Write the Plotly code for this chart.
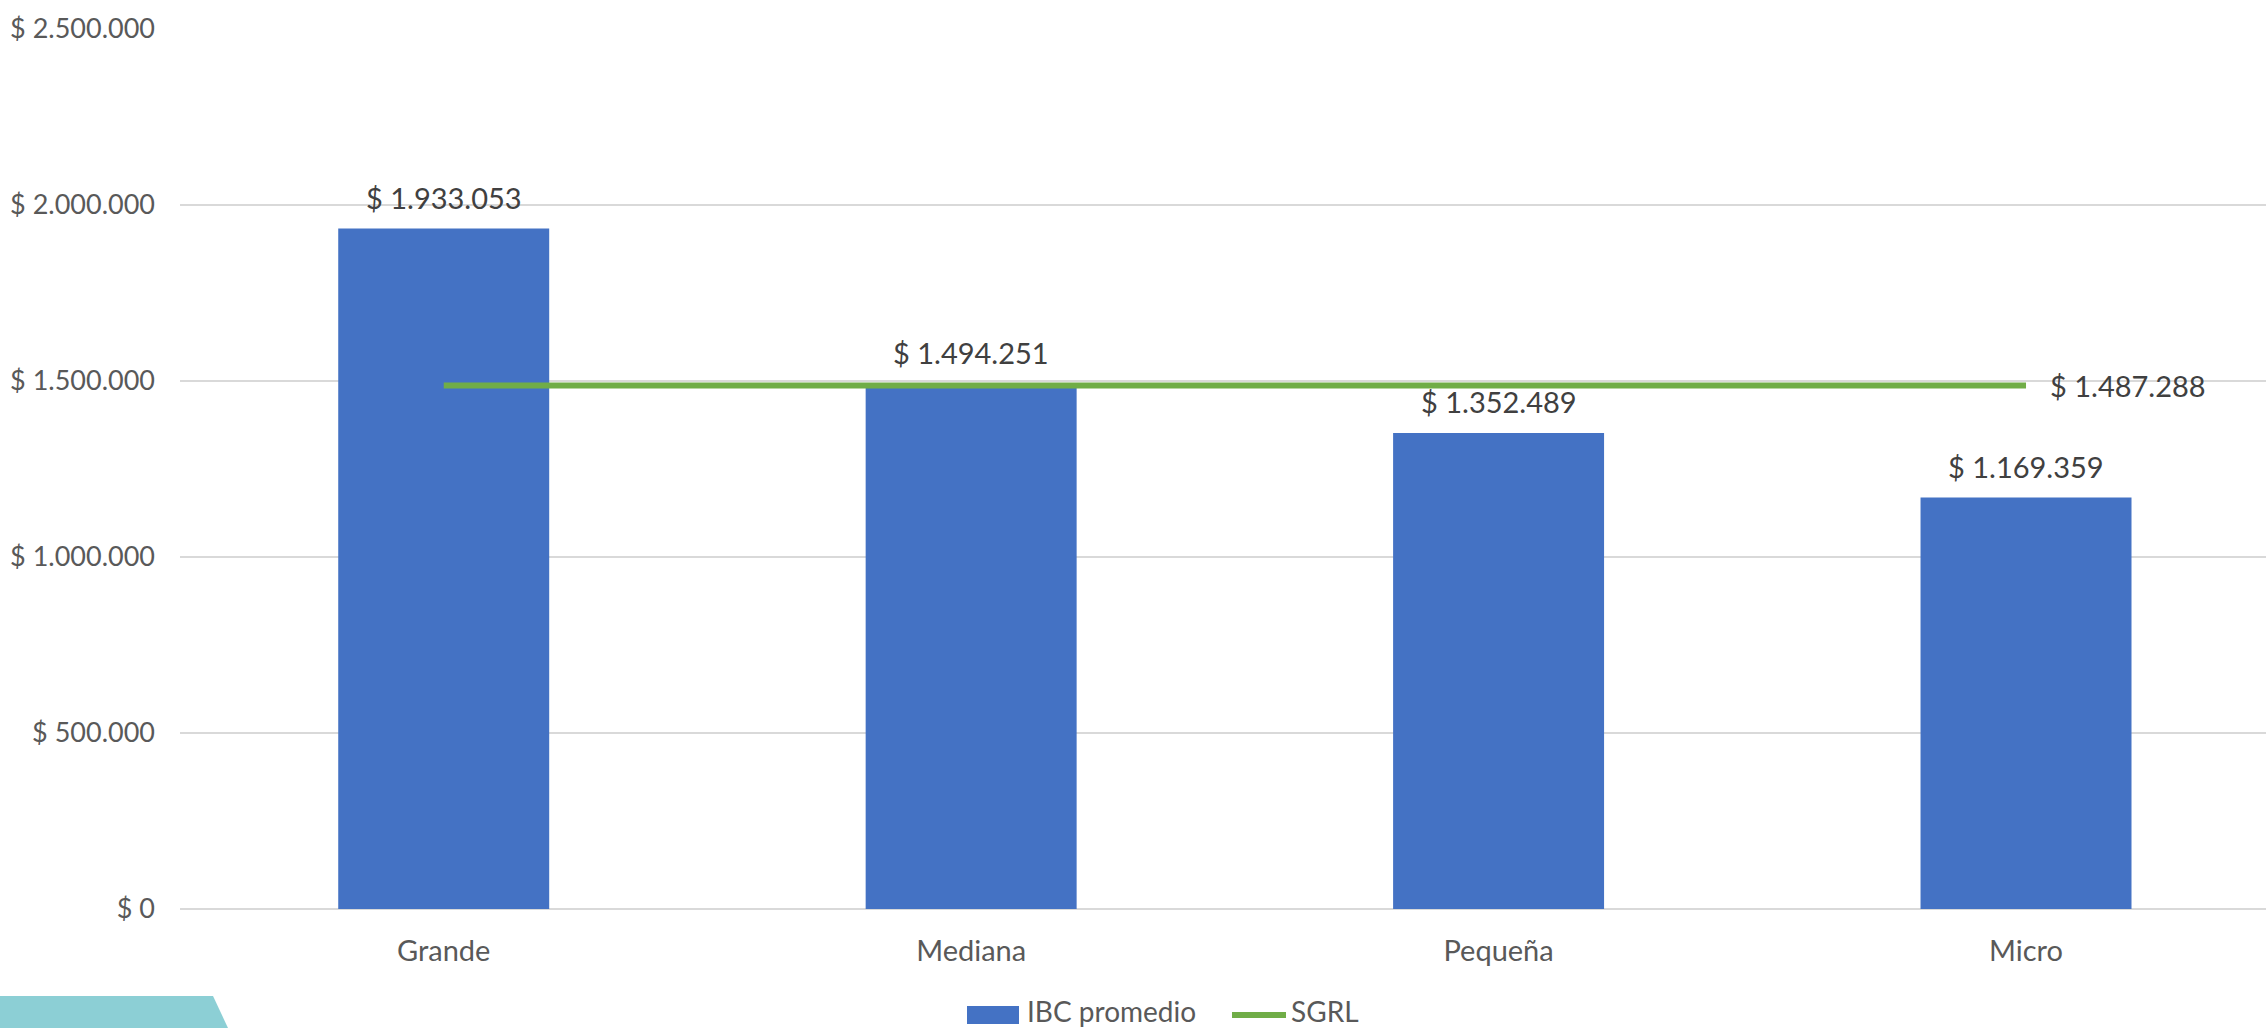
import plotly.graph_objects as go

categories = ["Grande", "Mediana", "Pequeña", "Micro"]
ibc_promedio = [1933053, 1494251, 1352489, 1169359]
sgrl = [1487288, 1487288, 1487288, 1487288]
y_tickvals = [0, 500000, 1000000, 1500000, 2000000, 2500000]
series_names = ["IBC promedio", "SGRL"]

BLUE = "#4472C4"
GREEN = "#70AD47"
GRID = "#D9D9D9"
AXIS_TEXT = "#595959"
LABEL_TEXT = "#404040"
FONT = "Lato"

W, H = 2266, 1028
ML, MR, MT, MB = 180, 0, 29, 119


def fmt(v):
    return "$ " + f"{v:,.0f}".replace(",", ".")


def px_x(p):
    return (p - ML) / (W - ML - MR)


def px_y(p):
    return (H - MB - p) / (H - MT - MB)


fig = go.Figure()
fig.add_trace(go.Bar(
    x=categories, y=ibc_promedio, name=series_names[0],
    marker=dict(color=BLUE, line=dict(width=0)), width=0.4,
    showlegend=False,
))
fig.add_trace(go.Scatter(
    x=categories, y=sgrl, name=series_names[1], mode="lines",
    line=dict(color=GREEN, width=6), showlegend=False,
))

annotations = []
for c, v in zip(categories, ibc_promedio):
    annotations.append(dict(
        x=c, y=v, xref="x", yref="y", text=fmt(v), showarrow=False,
        yanchor="middle", yshift=31,
        font=dict(family=FONT, size=29, color=LABEL_TEXT),
    ))
annotations.append(dict(
    x=categories[-1], y=sgrl[-1], xref="x", yref="y", text=fmt(sgrl[-1]),
    showarrow=False, xanchor="left", yanchor="middle", xshift=22,
    font=dict(family=FONT, size=29, color=LABEL_TEXT),
))
# legend texts
annotations.append(dict(
    x=px_x(1025), y=px_y(1011), xref="paper", yref="paper", text=series_names[0],
    showarrow=False, xanchor="left", yanchor="middle",
    font=dict(family=FONT, size=28, color=AXIS_TEXT),
))
annotations.append(dict(
    x=px_x(1289), y=px_y(1011), xref="paper", yref="paper", text=series_names[1],
    showarrow=False, xanchor="left", yanchor="middle",
    font=dict(family=FONT, size=28, color=AXIS_TEXT),
))

shapes = [
    # legend swatches
    dict(type="rect", xref="paper", yref="paper",
         x0=px_x(967), x1=px_x(1019), y0=px_y(1024), y1=px_y(1006),
         fillcolor=BLUE, line=dict(width=0)),
    dict(type="line", xref="paper", yref="paper",
         x0=px_x(1232), x1=px_x(1286), y0=px_y(1015), y1=px_y(1015),
         line=dict(color=GREEN, width=6)),
    # teal logo fragment in the bottom-left corner
    dict(type="path", xref="paper", yref="paper",
         path=f"M {px_x(0)},{px_y(996)} L {px_x(213)},{px_y(996)} "
              f"L {px_x(228)},{px_y(1028)} L {px_x(0)},{px_y(1028)} Z",
         fillcolor="#8CCFD5", line=dict(width=0)),
]

fig.update_layout(
    width=W, height=H,
    margin=dict(l=ML, r=MR, t=MT, b=MB, pad=0),
    paper_bgcolor="white", plot_bgcolor="white",
    bargap=0.6,
    showlegend=False,
    font=dict(family=FONT, color=AXIS_TEXT),
    annotations=annotations,
    shapes=shapes,
    xaxis=dict(
        range=[-0.5, 3.455], showgrid=False, zeroline=False, showline=False,
        ticks="", ticklabelstandoff=22,
        tickfont=dict(family=FONT, size=29, color=AXIS_TEXT),
    ),
    yaxis=dict(
        range=[0, 2500000], tickvals=y_tickvals,
        ticktext=[fmt(v) for v in y_tickvals],
        showgrid=True, gridcolor=GRID, gridwidth=2,
        zeroline=True, zerolinecolor=GRID, zerolinewidth=2,
        showline=False, ticks="", ticklabelstandoff=24,
        tickfont=dict(family=FONT, size=27, color=AXIS_TEXT),
    ),
)

fig.write_html(
    "out.html",
    config={"displayModeBar": False},
    post_script="document.body.style.margin='0';document.body.style.overflow='hidden';",
)
